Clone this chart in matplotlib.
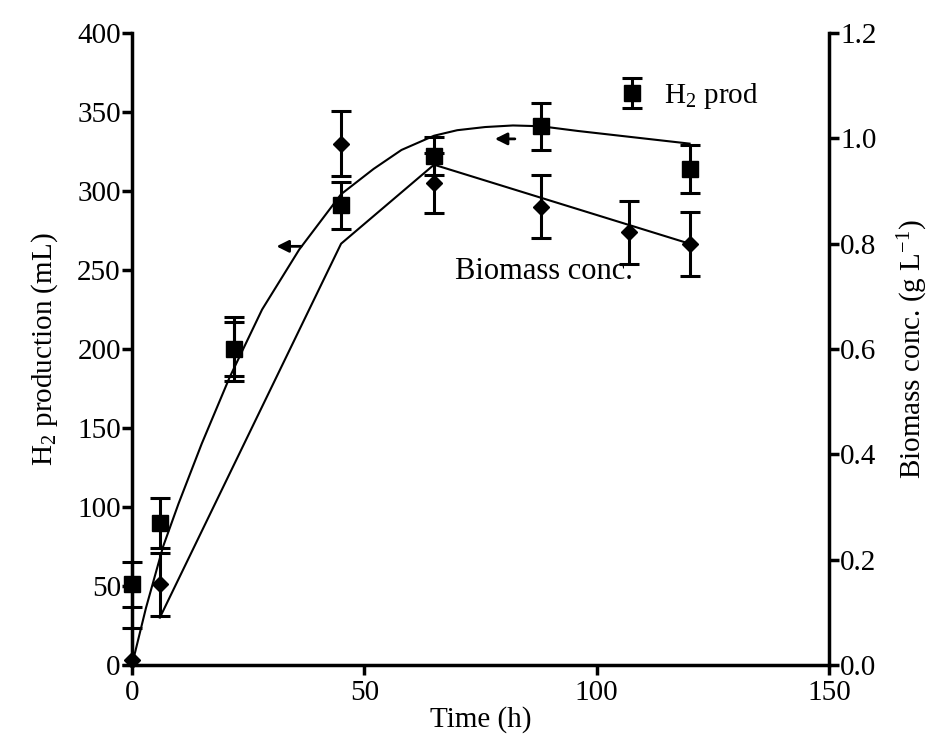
import matplotlib
matplotlib.use("Agg")
import matplotlib.pyplot as plt

plt.rcParams['font.family'] = ['Liberation Serif', 'DejaVu Serif']
plt.rcParams['mathtext.fontset'] = 'custom'
plt.rcParams['mathtext.rm'] = 'Liberation Serif'
plt.rcParams['mathtext.it'] = 'Liberation Serif:italic'

# H2 production (left axis, mL), squares
h2_time = [0, 6, 22, 45, 65, 88, 120]
h2_prod = [51, 90, 200, 291, 322, 341, 314]
h2_err = [14, 16, 17, 15, 12, 15, 15]

# fitted H2 curve
h2_fit_time = [0, 3, 6.7, 10, 15, 21, 28, 36, 45, 52, 58, 65, 70, 76, 82, 88, 96, 105, 120]
h2_fit = [0, 36, 75, 102, 140, 182, 225, 263, 298, 314, 326, 335, 338.5, 340.5, 341.5, 341, 338, 335, 330]

# biomass (right axis, g/L), diamonds
bio_time = [0, 6, 22, 45, 65, 88, 107, 120]
bio_conc = [0.01, 0.153, 0.60, 0.99, 0.915, 0.87, 0.822, 0.80]
bio_err_lo = [0.01, 0.06, 0.06, 0.062, 0.057, 0.06, 0.06, 0.061]
bio_err_hi = [0.06, 0.06, 0.06, 0.062, 0.057, 0.06, 0.06, 0.061]

# biomass model line
bio_fit_time = [6, 45, 65, 120]
bio_fit = [0.09, 0.80, 0.95, 0.80]

fig = plt.figure(figsize=(9.4, 7.49), dpi=100)
ax = fig.add_axes([0.1404, 0.1121, 0.7415, 0.8438])
ax2 = ax.twinx()

ax.plot(h2_fit_time, h2_fit, color='black', lw=1.5, zorder=2)
ax2.plot(bio_fit_time, bio_fit, color='black', lw=1.5, zorder=2)

ax2.errorbar(bio_time, bio_conc, yerr=[bio_err_lo, bio_err_hi], fmt='D', ms=8, color='black',
             ecolor='black', elinewidth=2.2, capsize=7, capthick=2.2, clip_on=False)
sq = ax.errorbar(h2_time, h2_prod, yerr=h2_err, fmt='s', ms=11, color='black',
                 ecolor='black', elinewidth=2.2, capsize=7, capthick=2.2, clip_on=False)

ax.set_xlim(0, 150)
ax.set_ylim(0, 400)
ax2.set_ylim(0, 1.2)
ax.set_xticks([0, 50, 100, 150])
ax.set_yticks(range(0, 401, 50))
ax2.set_yticks([0.0, 0.2, 0.4, 0.6, 0.8, 1.0, 1.2])
ax2.set_yticklabels(['%.1f' % v for v in [0.0, 0.2, 0.4, 0.6, 0.8, 1.0, 1.2]])

for a in (ax, ax2):
    a.spines['top'].set_visible(False)
    for s in a.spines.values():
        s.set_linewidth(2.5)
    a.tick_params(width=2.5, length=7, labelsize=21, pad=1, direction='out')
ax.tick_params(axis='x', pad=4)
ax2.spines['left'].set_visible(False)
ax2.spines['bottom'].set_visible(False)
ax.spines['right'].set_visible(False)

ax.set_xlabel('Time (h)', fontsize=21, labelpad=0)
ax.set_ylabel('H$_2$ production (mL)', fontsize=21, labelpad=12)
ax2.set_ylabel('Biomass conc. (g L$^{-1}$)', fontsize=21, labelpad=14)

ax.annotate('', xy=(30.5, 265), xytext=(37, 265),
            arrowprops=dict(arrowstyle='-|>', color='black', lw=2, mutation_scale=18))
ax.annotate('', xy=(77.5, 333), xytext=(83, 333),
            arrowprops=dict(arrowstyle='-|>', color='black', lw=2, mutation_scale=18))
ax.text(69.5, 249, 'Biomass conc.', fontsize=22, va='center', ha='left')

ax.legend([sq], ['H$_2$ prod'], loc='center left', bbox_to_anchor=(0.655, 0.9),
          frameon=False, fontsize=21, handlelength=1.2, handletextpad=0.5)

fig.savefig('out.png', dpi=100)
